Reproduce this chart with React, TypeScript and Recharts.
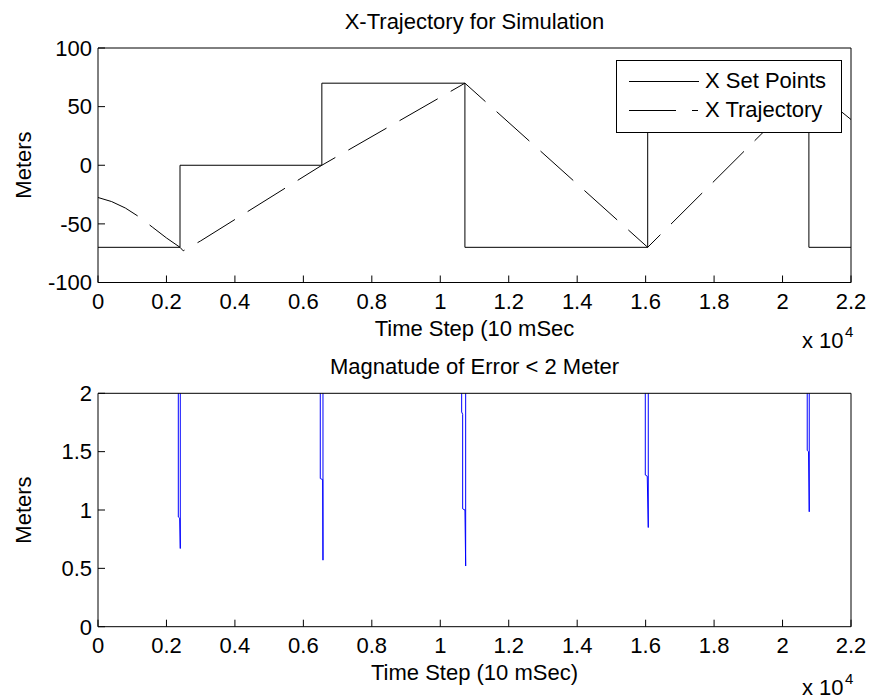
import React from "react";
import { LineChart, Line, XAxis, YAxis, Legend } from "recharts";

// x values are in units of 10^4 time steps
const xTicks = [0, 0.2, 0.4, 0.6, 0.8, 1, 1.2, 1.4, 1.6, 1.8, 2, 2.2];
const topYTicks = [-100, -50, 0, 50, 100];
const bottomYTicks = [0, 0.5, 1, 1.5, 2];

// X set points (step changes)
const setX = [0, 0.2396, 0.654, 1.072, 1.606, 2.077, 2.2];
const setY = [-70, 0, 70, -70, 70, -70, -70];

// X trajectory
const trajX = [0, 0.04, 0.08, 0.12, 0.16, 0.2, 0.2396, 0.249, 0.3, 0.654, 1.072, 1.606, 2.077, 2.12, 2.16, 2.2];
const trajY = [-27.5, -31, -36.5, -44, -53, -62, -70, -73, -64.5, 0, 70, -70, 67, 58, 48.5, 39];

// magnitude of error (values above 2 are off the plot)
const errX = [
  0, 0.2346, 0.2346, 0.2387, 0.2404, 0.2404,
  0.6494, 0.6494, 0.6564, 0.6573, 0.6573,
  1.0625, 1.0625, 1.0654, 1.0654, 1.0721, 1.0742, 1.0742,
  1.599, 1.599, 1.6047, 1.6077, 1.6077,
  2.0721, 2.0721, 2.076, 2.078, 2.078, 2.2,
];
const errY = [
  4, 4, 0.94, 0.93, 0.67, 4,
  4, 1.27, 1.26, 0.57, 4,
  4, 1.84, 1.82, 1.01, 1.0, 0.52, 4,
  4, 1.3, 1.29, 0.85, 4,
  4, 1.51, 1.5, 0.985, 4, 4,
];

const setData = setX.map((x, i) => ({ x, y: setY[i] }));
const trajData = trajX.map((x, i) => ({ x, y: trajY[i] }));
const errData = errX.map((x, i) => ({ x, y: errY[i] }));

const FONT = "'Liberation Sans', Arial, sans-serif";
const tickStyle = { fill: "#000", fontSize: 22, fontFamily: FONT };
const fmt = (v: number) => String(Math.round(v * 10) / 10);

function LegendBox() {
  return (
    <svg width={227} height={74} style={{ display: "block" }}>
      <rect x={0.5} y={0.5} width={225} height={72} fill="#fff" stroke="#000" />
      <line x1={13} y1={21.5} x2={83} y2={21.5} stroke="#000" />
      <text x={89} y={28} fontSize={22} fontFamily={FONT} fill="#000">X Set Points</text>
      <line x1={13} y1={50.5} x2={83} y2={50.5} stroke="#000" strokeDasharray="47 16 6 100" />
      <text x={89} y={57} fontSize={22} fontFamily={FONT} fill="#000">X Trajectory</text>
    </svg>
  );
}

export default function App() {
  return (
    <div style={{ position: "absolute", left: 0, top: 0, width: 873, height: 700, background: "#fff" }}>
      <div style={{ position: "absolute", left: 0, top: 0 }}>
        <LineChart width={873} height={340} margin={{ top: 38, right: 12, bottom: 27.5, left: 18 }}>
          <XAxis dataKey="x" type="number" domain={[0, 2.2]} ticks={xTicks} allowDataOverflow
            tickFormatter={fmt} tick={tickStyle} tickSize={-7} tickMargin={17.5} height={30}
            stroke="#000" interval={0} />
          <XAxis xAxisId="top" dataKey="x" orientation="top" type="number" domain={[0, 2.2]} ticks={xTicks}
            allowDataOverflow tick={false} tickSize={-7} height={10} stroke="#000" interval={0} />
          <YAxis dataKey="y" type="number" domain={[-100, 100]} ticks={topYTicks} allowDataOverflow
            tick={tickStyle} tickSize={-7} tickMargin={13} width={80} stroke="#000" interval={0} />
          <YAxis yAxisId="right" orientation="right" type="number" domain={[-100, 100]} ticks={topYTicks}
            allowDataOverflow tick={false} tickSize={-7} width={10} stroke="#000" interval={0} />
          <Line data={setData} dataKey="y" name="X Set Points" type="stepAfter" stroke="#000" strokeWidth={1}
            dot={false} isAnimationActive={false} />
          <Line data={trajData} dataKey="y" name="X Trajectory" type="linear" stroke="#000" strokeWidth={1}
            strokeDasharray="44 15" dot={false} isAnimationActive={false} />
          <Legend content={() => <LegendBox />} layout="horizontal" align="center" verticalAlign="middle"
            wrapperStyle={{ position: "absolute", top: 60, left: 616, width: 227, height: 74 }} />
        </LineChart>
      </div>
      <div style={{ position: "absolute", left: 0, top: 340 }}>
        <LineChart width={873} height={360} margin={{ top: 43.3, right: 12, bottom: 43.3, left: 18 }}>
          <XAxis dataKey="x" type="number" domain={[0, 2.2]} ticks={xTicks} allowDataOverflow
            tickFormatter={fmt} tick={tickStyle} tickSize={-7} tickMargin={17.5} height={30}
            stroke="#000" interval={0} />
          <XAxis xAxisId="top" dataKey="x" orientation="top" type="number" domain={[0, 2.2]} ticks={xTicks}
            allowDataOverflow tick={false} tickSize={-7} height={10} stroke="#000" interval={0} />
          <YAxis dataKey="y" type="number" domain={[0, 2]} ticks={bottomYTicks} allowDataOverflow
            tickFormatter={fmt} tick={tickStyle} tickSize={-7} tickMargin={13} width={80} stroke="#000" interval={0} />
          <YAxis yAxisId="right" orientation="right" type="number" domain={[0, 2]} ticks={bottomYTicks}
            allowDataOverflow tick={false} tickSize={-7} width={10} stroke="#000" interval={0} />
          <Line data={errData} dataKey="y" type="linear" stroke="#0000ff" strokeWidth={1}
            dot={false} isAnimationActive={false} />
        </LineChart>
      </div>
      <svg width={873} height={700} style={{ position: "absolute", left: 0, top: 0, pointerEvents: "none" }}
        fontFamily={FONT} fill="#000">
        <text x={474.5} y={29} fontSize={22} textAnchor="middle">X-Trajectory for Simulation</text>
        <text x={474.5} y={336} fontSize={22} textAnchor="middle">Time Step (10 mSec</text>
        <text x={802} y={348} fontSize={22}>x 10</text>
        <text x={845} y={337} fontSize={15}>4</text>
        <text x={474.5} y={373.5} fontSize={22} textAnchor="middle">Magnatude of Error &lt; 2 Meter</text>
        <text x={474.5} y={680} fontSize={22} textAnchor="middle">Time Step (10 mSec)</text>
        <text x={802} y={695} fontSize={22}>x 10</text>
        <text x={845} y={684} fontSize={15}>4</text>
        <text transform="translate(31,165) rotate(-90)" fontSize={22} textAnchor="middle">Meters</text>
        <text transform="translate(31,510) rotate(-90)" fontSize={22} textAnchor="middle">Meters</text>
      </svg>
    </div>
  );
}
